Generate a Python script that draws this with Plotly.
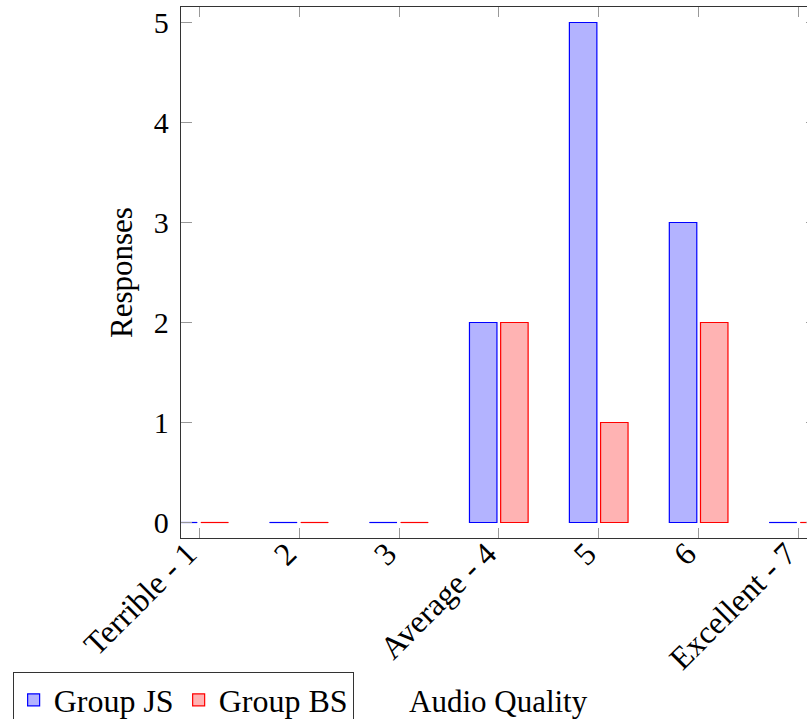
import plotly.graph_objects as go

categories = ["Terrible - 1", "2", "3", "Average - 4", "5", "6", "Excellent - 7"]
group_js = [0, 0, 0, 2, 5, 3, 0]
group_bs = [0, 0, 0, 2, 1, 2, 0]
y_ticks = [0, 1, 2, 3, 4, 5]

positions = list(range(1, len(categories) + 1))
FONT = "Liberation Serif"
BAR_W = 0.275
series = [
    ("Group JS", group_js, -0.295, "rgb(179,179,255)", "rgb(0,0,255)"),
    ("Group BS", group_bs, 0.017, "rgb(255,179,179)", "rgb(255,0,0)"),
]

fig = go.Figure()
for name, vals, off, fill, stroke in series:
    fig.add_trace(go.Bar(
        x=positions, y=vals, name=name, width=BAR_W, offset=off,
        marker=dict(color=fill, line=dict(color=stroke, width=1.2)),
    ))
for name, vals, off, fill, stroke in series:
    xs, ys = [], []
    for p, v in zip(positions, vals):
        if v == 0:
            xs += [p + off, p + off + BAR_W, None]
            ys += [v, v, None]
    fig.add_trace(go.Scatter(x=xs, y=ys, mode="lines", showlegend=False,
                             line=dict(color=stroke, width=1.2), hoverinfo="skip"))

W, H = 830, 719
L, R_EDGE, T, B = 180.5, 817.0, 6.5, 538.5
plot_w = R_EDGE - L
plot_h = B - T
unit = 100.0
x0 = positions[0] - 0.182
x1 = x0 + plot_w / unit

fig.update_layout(
    width=W, height=H, barmode="overlay",
    margin=dict(l=L, r=W - R_EDGE, t=T, b=H - B, autoexpand=False),
    plot_bgcolor="white", paper_bgcolor="white",
    font=dict(family=FONT, size=30, color="black"),
    xaxis=dict(range=[x0, x1], tickvals=positions, ticktext=categories, tickangle=-45,
               ticks="inside", ticklen=10, tickcolor="#999999", tickwidth=1,
               showline=True, linecolor="#333333", linewidth=1.3, mirror="ticks",
               showgrid=False, zeroline=False, tickfont=dict(size=32, family=FONT),
               ticklabelshift=-12, ticklabelstandoff=-17),
    yaxis=dict(range=[-0.155, 5.155], tickvals=y_ticks, ticks="inside", ticklen=11,
               tickcolor="#999999", tickwidth=1, showline=True, linecolor="#333333",
               linewidth=1.3, showgrid=False, zeroline=False, mirror="ticks",
               tickfont=dict(size=30, family=FONT), ticklabelstandoff=5),
    legend=dict(orientation="h", x=(12 - L) / plot_w, y=(B - 672.3) / plot_h,
                xanchor="left", yanchor="top", bordercolor="#333333", borderwidth=1,
                bgcolor="white", font=dict(size=32, family=FONT), itemwidth=30,
                traceorder="normal"),
    showlegend=True,
    annotations=[
        dict(text="Audio Quality", x=sum(positions) / len(positions), xref="x",
             y=(B - 702) / plot_h, yref="paper", showarrow=False,
             xanchor="center", yanchor="middle", font=dict(size=31, family=FONT)),
        dict(text="Responses", x=(121 - L) / plot_w, xref="paper", y=(B - 272.5) / plot_h,
             yref="paper", showarrow=False, textangle=-90, xanchor="center",
             yanchor="middle", font=dict(size=31, family=FONT)),
    ],
)

fig.write_html("out.html", config={"displayModeBar": False},
               post_script="document.body.style.margin='0px';")
